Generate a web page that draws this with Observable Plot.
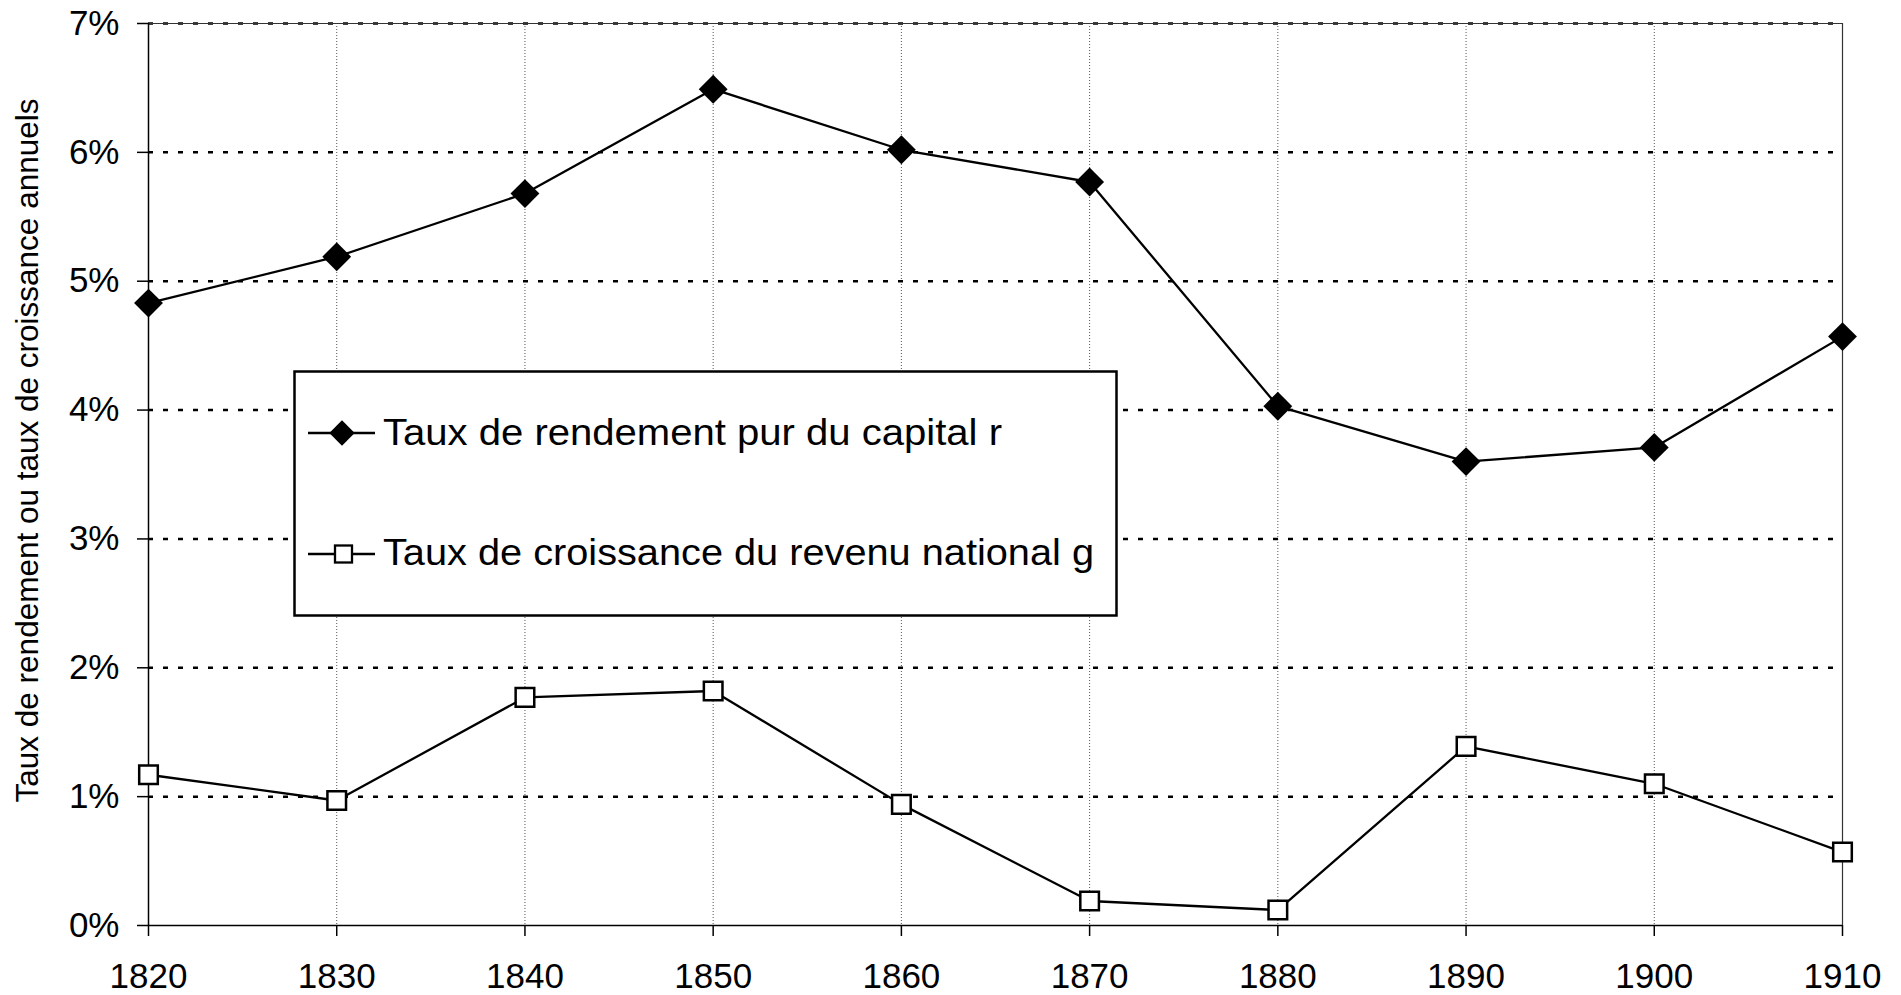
<!DOCTYPE html>
<html>
<head>
<meta charset="utf-8">
<script src="https://cdn.jsdelivr.net/npm/d3@7"></script>
<script src="https://cdn.jsdelivr.net/npm/@observablehq/plot@0.6"></script>
<style>
  html, body { margin: 0; padding: 0; background: #fff; }
  #wrap { position: relative; width: 1901px; height: 995px; font-family: "Liberation Sans", Arial, sans-serif; }
  #legend { position: absolute; left: 292px; top: 369px; }
</style>
</head>
<body>
<div id="wrap"></div>
<script>
// ---- data ----
const years = [1820, 1830, 1840, 1850, 1860, 1870, 1880, 1890, 1900, 1910];
const rValues = [4.83, 5.19, 5.68, 6.49, 6.02, 5.77, 4.03, 3.60, 3.71, 4.57];
const gValues = [1.17, 0.97, 1.77, 1.82, 0.94, 0.19, 0.12, 1.39, 1.10, 0.57];
const seriesNames = ["Taux de rendement pur du capital r", "Taux de croissance du revenu national g"];
const yTicks = [0, 1, 2, 3, 4, 5, 6, 7];
const yLabel = "Taux de rendement ou taux de croissance annuels";

const rData = years.map((year, i) => ({year, value: rValues[i]}));
const gData = years.map((year, i) => ({year, value: gValues[i]}));

const font = "'Liberation Sans', Arial, sans-serif";

const chart = Plot.plot({
  width: 1901,
  height: 995,
  marginLeft: 148,
  marginRight: 59,
  marginTop: 23,
  marginBottom: 70,
  style: {fontFamily: font, fontSize: "35px", color: "#000", background: "#fff", overflow: "visible"},
  x: {domain: [years[0], years[years.length - 1]], ticks: years, tickFormat: "d"},
  y: {domain: [0, 7], ticks: yTicks, tickFormat: d => d + "%"},
  marks: [
    Plot.ruleX(years.slice(1, -1), {stroke: "#555", strokeWidth: 1, strokeDasharray: "1,2"}),
    Plot.ruleY(yTicks.slice(1), {stroke: "#000", strokeWidth: 2.5, strokeDasharray: "5,10"}),
    Plot.ruleY([yTicks[yTicks.length - 1]], {stroke: "#333", strokeWidth: 1}),
    Plot.ruleX([years[years.length - 1]], {stroke: "#333", strokeWidth: 1.2}),
    Plot.ruleX([years[0]], {stroke: "#000", strokeWidth: 1.5}),
    Plot.ruleY([0], {stroke: "#000", strokeWidth: 1.5}),
    Plot.axisX({ticks: years, tickFormat: "d", tickSize: 11, tickPadding: 27, strokeWidth: 1.5, label: null, fontSize: 35}),
    Plot.axisY({ticks: yTicks, tickFormat: d => d + "%", tickSize: 11, tickPadding: 18, strokeWidth: 1.5, label: null, fontSize: 35}),
    Plot.text([yLabel], {frameAnchor: "left", text: d => d, rotate: -90, dx: -121, dy: -24, fontSize: 31.5, fill: "#000", lineAnchor: "middle", textAnchor: "middle"}),
    Plot.line(rData, {x: "year", y: "value", stroke: "#000", strokeWidth: 2.3}),
    Plot.line(gData, {x: "year", y: "value", stroke: "#000", strokeWidth: 2.3}),
    Plot.dot(rData, {x: "year", y: "value", symbol: "diamond2", r: 13, fill: "#000", stroke: "none"}),
    Plot.dot(gData, {x: "year", y: "value", symbol: "square", r: 10.5, fill: "#fff", stroke: "#000", strokeWidth: 2.5})
  ]
});
document.getElementById("wrap").appendChild(chart);

// ---- legend (overlay inside the plot area) ----
const lg = d3.select("#wrap").append("svg")
  .attr("id", "legend")
  .attr("width", 828).attr("height", 250)
  .style("font-family", font);
lg.append("rect").attr("x", 2.5).attr("y", 2.5).attr("width", 822).attr("height", 244)
  .attr("fill", "#fff").attr("stroke", "#000").attr("stroke-width", 2.5);
const rows = [
  {name: seriesNames[0], cy: 64, base: 76, len: 619, sym: "diamond"},
  {name: seriesNames[1], cy: 185, base: 196, len: 711, sym: "square"}
];
rows.forEach(row => {
  lg.append("line").attr("x1", 16).attr("x2", 83).attr("y1", row.cy).attr("y2", row.cy)
    .attr("stroke", "#000").attr("stroke-width", 2.3);
  if (row.sym === "diamond") {
    lg.append("path").attr("d", d3.symbol(d3.symbolDiamond2, 410)()).attr("transform", `translate(50,${row.cy})`)
      .attr("fill", "#000");
  } else {
    lg.append("rect").attr("x", 43).attr("y", row.cy - 8.5).attr("width", 17).attr("height", 17)
      .attr("fill", "#fff").attr("stroke", "#000").attr("stroke-width", 2.3);
  }
  lg.append("text").attr("x", 91).attr("y", row.base)
    .attr("font-size", 37).attr("fill", "#000")
    .attr("textLength", row.len).attr("lengthAdjust", "spacingAndGlyphs")
    .text(row.name);
});
</script>
</body>
</html>
